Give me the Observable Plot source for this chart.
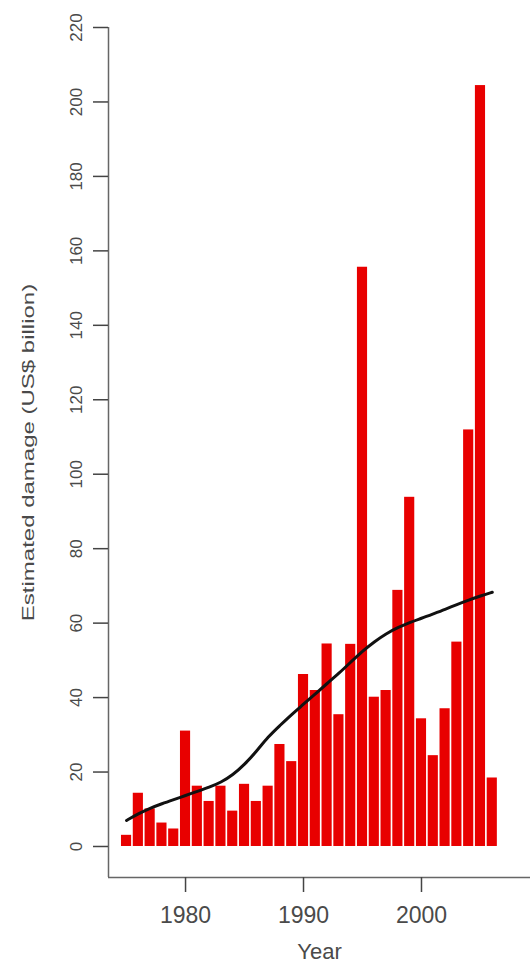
<!DOCTYPE html>
<html>
<head>
<meta charset="utf-8">
<script src="https://cdn.jsdelivr.net/npm/d3@7"></script>
<script src="https://cdn.jsdelivr.net/npm/@observablehq/plot@0.6"></script>
<style>
  html, body { margin: 0; padding: 0; background: #fff; }
  #chart svg { display: block; }
</style>
</head>
<body>
<div id="chart"></div>
<script>
// ---- data ----
const years = [1975, 1976, 1977, 1978, 1979, 1980, 1981, 1982, 1983, 1984,
               1985, 1986, 1987, 1988, 1989, 1990, 1991, 1992, 1993, 1994,
               1995, 1996, 1997, 1998, 1999, 2000, 2001, 2002, 2003, 2004,
               2005, 2006];
const damage = [3, 14.3, 10.1, 6.3, 4.7, 31, 16.2, 12.1, 16.2, 9.5,
                16.7, 12.1, 16.2, 27.4, 22.8, 46.2, 41.9, 54.4, 35.4, 54.3,
                155.6, 40.1, 41.9, 68.8, 93.8, 34.3, 24.4, 37, 54.9, 111.9,
                204.4, 18.4];
const trend = [7, 8.8, 10.3, 11.5, 12.6, 13.7, 14.8, 15.9, 17.2, 19.2,
               22, 25.5, 29.5, 32.5, 35.5, 38.2, 41, 43.8, 46.5, 49.5,
               52.5, 55, 57.2, 58.8, 60.2, 61.3, 62.5, 63.7, 65, 66.2,
               67.3, 68.3];
const yTicks = [0, 20, 40, 60, 80, 100, 120, 140, 160, 180, 200, 220];
const xTicks = [1980, 1990, 2000];
const xDomain = [1973.47, 2009.24];
const yDomain = [-8.33, 220];

const bars = years.map((year, i) => ({year, value: damage[i]}));
const smooth = years.map((year, i) => ({year, value: trend[i]}));

const ink = "#4a4a4a";

const chart = Plot.plot({
  width: 532,
  height: 963,
  marginLeft: 108,
  marginRight: 2,
  marginTop: 27,
  marginBottom: 86,
  style: {fontFamily: "'Liberation Sans', Arial, sans-serif", color: ink, background: "#fff", overflow: "visible"},
  x: {domain: xDomain},
  y: {domain: yDomain},
  marks: [
    Plot.rectY(bars, {x1: d => d.year - 0.43, x2: d => d.year + 0.43, y1: 0, y2: "value", fill: "#e80000"}),
    Plot.line(smooth, {x: "year", y: "value", stroke: "#111", strokeWidth: 3, curve: "basis"}),
    Plot.ruleX([xDomain[0]], {y1: yDomain[0], y2: 220, stroke: "#666", strokeWidth: 1.5}),
    Plot.ruleY([yDomain[0]], {stroke: "#666", strokeWidth: 1.5}),
    Plot.axisY(yTicks, {
      anchor: "left", tickSize: 15, tickPadding: 12, tickRotate: -90,
      fontSize: 17, stroke: "#444", strokeWidth: 1.5,
      label: "Estimated damage (US$ billion)", labelAnchor: "center", labelOffset: 87, labelArrow: "none"
    }),
    Plot.axisX(xTicks, {
      anchor: "bottom", tickSize: 15, tickPadding: 14, tickFormat: d => String(d),
      fontSize: 23, stroke: "#444", strokeWidth: 1.5,
      label: "Year", labelAnchor: "center", labelOffset: 81, labelArrow: "none"
    })
  ]
});
document.getElementById("chart").append(chart);

// squeeze the rotated y-axis title horizontally to match the reference proportions
d3.select(chart).selectAll('g[aria-label="y-axis label"] text').each(function () {
  const t = this.getAttribute("transform") || "";
  this.setAttribute("transform", t + " scale(1,0.72)");
  this.setAttribute("font-size", 24);
});
d3.select(chart).selectAll('g[aria-label="x-axis label"] text').attr("font-size", 22);
</script>
</body>
</html>
